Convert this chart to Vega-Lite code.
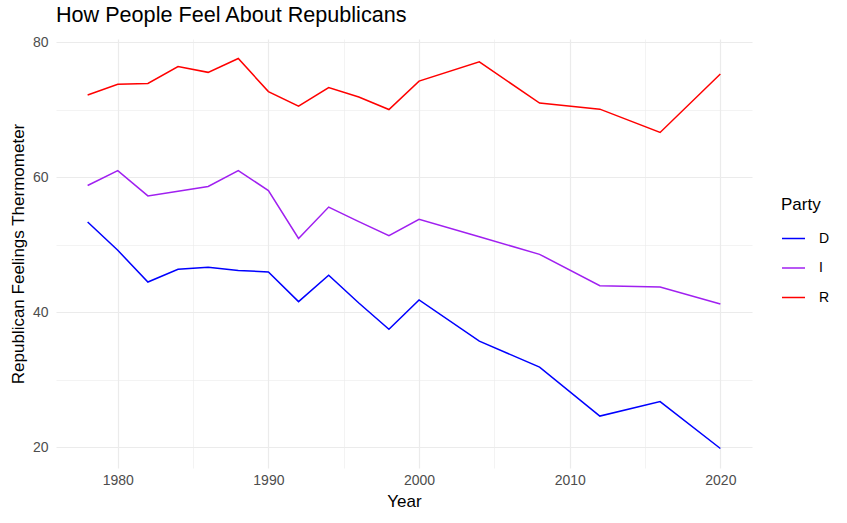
{
  "$schema": "https://vega.github.io/schema/vega-lite/v6.json",
  "autosize": {"type": "none"},
  "width": 696,
  "height": 429,
  "padding": {"left": 56, "top": 39, "right": 95, "bottom": 56},
  "background": "white",
  "config": {
    "view": {"stroke": null},
    "font": "Liberation Sans",
    "axis": {
      "domain": false,
      "ticks": false,
      "labelColor": "#4d4d4d",
      "labelFont": "Liberation Sans",
      "labelFontSize": 14,
      "titleFont": "Liberation Sans",
      "titleFontSize": 17,
      "titleFontWeight": "normal",
      "titleColor": "#000000"
    }
  },
  "title": {
    "text": "How People Feel About Republicans",
    "anchor": "start",
    "frame": "group",
    "font": "Liberation Sans",
    "fontSize": 21.6,
    "fontWeight": "normal",
    "color": "#000000",
    "offset": 9
  },
  "data": {
    "values": [
      {"year": 1978, "party": "D", "value": 53.4},
      {"year": 1980, "party": "D", "value": 49.2},
      {"year": 1982, "party": "D", "value": 44.5},
      {"year": 1984, "party": "D", "value": 46.4},
      {"year": 1986, "party": "D", "value": 46.7},
      {"year": 1988, "party": "D", "value": 46.2},
      {"year": 1990, "party": "D", "value": 46.0},
      {"year": 1992, "party": "D", "value": 41.6},
      {"year": 1994, "party": "D", "value": 45.5},
      {"year": 1996, "party": "D", "value": 41.4},
      {"year": 1998, "party": "D", "value": 37.5},
      {"year": 2000, "party": "D", "value": 41.85},
      {"year": 2004, "party": "D", "value": 35.75},
      {"year": 2008, "party": "D", "value": 31.9},
      {"year": 2012, "party": "D", "value": 24.65},
      {"year": 2016, "party": "D", "value": 26.8},
      {"year": 2020, "party": "D", "value": 19.85},
      {"year": 1978, "party": "I", "value": 58.8},
      {"year": 1980, "party": "I", "value": 61.0},
      {"year": 1982, "party": "I", "value": 57.25},
      {"year": 1984, "party": "I", "value": 57.95},
      {"year": 1986, "party": "I", "value": 58.65},
      {"year": 1988, "party": "I", "value": 61.0},
      {"year": 1990, "party": "I", "value": 58.05},
      {"year": 1992, "party": "I", "value": 50.95},
      {"year": 1994, "party": "I", "value": 55.6},
      {"year": 1996, "party": "I", "value": 53.45},
      {"year": 1998, "party": "I", "value": 51.35},
      {"year": 2000, "party": "I", "value": 53.8},
      {"year": 2004, "party": "I", "value": 51.2},
      {"year": 2008, "party": "I", "value": 48.6},
      {"year": 2012, "party": "I", "value": 43.95},
      {"year": 2016, "party": "I", "value": 43.75},
      {"year": 2020, "party": "I", "value": 41.25},
      {"year": 1978, "party": "R", "value": 72.2},
      {"year": 1980, "party": "R", "value": 73.8},
      {"year": 1982, "party": "R", "value": 73.9},
      {"year": 1984, "party": "R", "value": 76.4},
      {"year": 1986, "party": "R", "value": 75.55},
      {"year": 1988, "party": "R", "value": 77.6},
      {"year": 1990, "party": "R", "value": 72.7},
      {"year": 1992, "party": "R", "value": 70.55},
      {"year": 1994, "party": "R", "value": 73.3},
      {"year": 1996, "party": "R", "value": 71.9},
      {"year": 1998, "party": "R", "value": 70.05},
      {"year": 2000, "party": "R", "value": 74.25},
      {"year": 2004, "party": "R", "value": 77.1},
      {"year": 2008, "party": "R", "value": 71.0},
      {"year": 2012, "party": "R", "value": 70.1},
      {"year": 2016, "party": "R", "value": 66.65},
      {"year": 2020, "party": "R", "value": 75.3}
    ]
  },
  "mark": {"type": "line", "strokeWidth": 1.5, "interpolate": "linear"},
  "encoding": {
    "x": {
      "field": "year",
      "type": "quantitative",
      "title": "Year",
      "scale": {"domain": [1975.9, 2022.1], "nice": false, "zero": false},
      "axis": {
        "values": [1980, 1985, 1990, 1995, 2000, 2005, 2010, 2015, 2020],
        "format": "d",
        "labelExpr": "datum.value % 10 === 0 ? datum.label : ''",
        "labelPadding": 5,
        "titlePadding": 6,
        "grid": true,
        "gridColor": "#ebebeb",
        "gridWidth": {"condition": {"test": "datum.value % 10 === 0", "value": 1.2}, "value": 0.6}
      }
    },
    "y": {
      "field": "value",
      "type": "quantitative",
      "title": "Republican Feelings Thermometer",
      "scale": {"domain": [16.96, 80.49], "nice": false, "zero": false},
      "axis": {
        "values": [20, 30, 40, 50, 60, 70, 80],
        "labelExpr": "datum.value % 20 === 0 ? datum.label : ''",
        "labelPadding": 8,
        "titlePadding": 5,
        "grid": true,
        "gridColor": "#ebebeb",
        "gridWidth": {"condition": {"test": "datum.value % 20 === 0", "value": 1.2}, "value": 0.6}
      }
    },
    "color": {
      "field": "party",
      "type": "nominal",
      "title": "Party",
      "scale": {"domain": ["D", "I", "R"], "range": ["#0000ff", "#a020f0", "#ff0000"]},
      "legend": {
        "orient": "none",
        "legendX": 725,
        "legendY": 158,
        "padding": 0,
        "titleFont": "Liberation Sans",
        "titleFontSize": 17,
        "titleFontWeight": "normal",
        "titleColor": "#000000",
        "titlePadding": 12,
        "labelFont": "Liberation Sans",
        "labelFontSize": 14,
        "labelColor": "#000000",
        "labelOffset": 13,
        "symbolType": "stroke",
        "symbolSize": 529,
        "symbolStrokeWidth": 1.5,
        "rowPadding": 9.5
      }
    }
  }
}
